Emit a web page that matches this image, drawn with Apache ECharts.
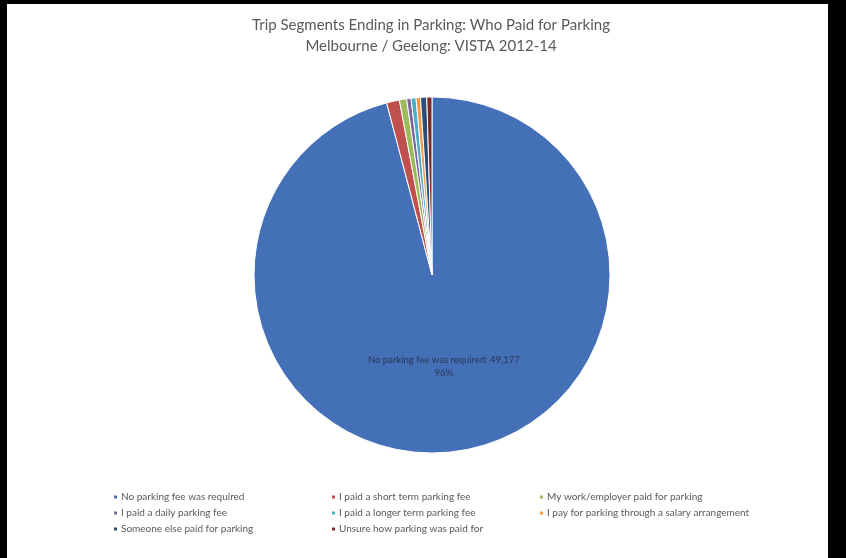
<!DOCTYPE html>
<html>
<head>
<meta charset="utf-8">
<script src="https://cdn.jsdelivr.net/npm/echarts@6/dist/echarts.min.js"></script>
<style>
html,body{margin:0;padding:0;background:#000;}
#c{width:846px;height:558px;}
</style>
</head>
<body>
<div id="c"></div>
<script>
const titleLines = ['Trip Segments Ending in Parking: Who Paid for Parking', 'Melbourne / Geelong: VISTA 2012-14'];
const categories = [
  'No parking fee was required',
  'I paid a short term parking fee',
  'My work/employer paid for parking',
  'I paid a daily parking fee',
  'I paid a longer term parking fee',
  'I pay for parking through a salary arrangement',
  'Someone else paid for parking',
  'Unsure how parking was paid for'
];
const values = [49177, 598, 335, 205, 230, 205, 290, 240];
const colors = ['#4470B8', '#C0504D', '#9BBB59', '#8064A2', '#4BACC6', '#F79646', '#2C4D75', '#772C2A'];
const legendCols = [
  [categories[0], categories[3], categories[6]],
  [categories[1], categories[4], categories[7]],
  [categories[2], categories[5]]
];

const total = values.reduce((a, b) => a + b, 0);
const chart = echarts.init(document.getElementById('c'), null, {renderer: 'canvas'});
const legendLeft = [112, 330, 538];
const legendBase = {
  orient: 'vertical', top: 492, padding: 0, icon: 'rect', itemWidth: 5, itemHeight: 5, itemGap: 6,
  textStyle: {fontFamily: 'Lato', fontSize: 10, color: '#595959', lineHeight: 10, padding: [0, 0, 0, -2]},
  selectedMode: false
};
chart.setOption({
  backgroundColor: '#000',
  animation: false,
  color: colors,
  graphic: {elements: [{type: 'rect', z: -100, silent: true, shape: {x: 7, y: 4, width: 821, height: 560}, style: {fill: '#fff'}}]},
  title: {
    text: titleLines.join('\n'), left: 426, top: 10, textAlign: 'center',
    textStyle: {fontFamily: 'Lato', fontSize: 15, fontWeight: 'normal', color: '#595959', lineHeight: 21}
  },
  legend: legendCols.map((d, i) => Object.assign({}, legendBase, {left: legendLeft[i], data: d})),
  series: [{
    type: 'pie',
    center: [432, 275],
    radius: [0, 178],
    startAngle: 90,
    clockwise: true,
    avoidLabelOverlap: false,
    itemStyle: {borderColor: '#fff', borderWidth: 1},
    labelLine: {show: false},
    data: categories.map((c, i) => ({
      name: c, value: values[i],
      label: i === 0 ? {
        show: true, position: 'inside', fontFamily: 'Lato', fontSize: 9.5, color: '#2a3550', lineHeight: 13,
        formatter: p => p.name + ': ' + p.value.toLocaleString('en-US') + '\n' + Math.round(p.value / total * 100) + '%'
      } : {show: false}
    }))
  }]
});
</script>
</body>
</html>
